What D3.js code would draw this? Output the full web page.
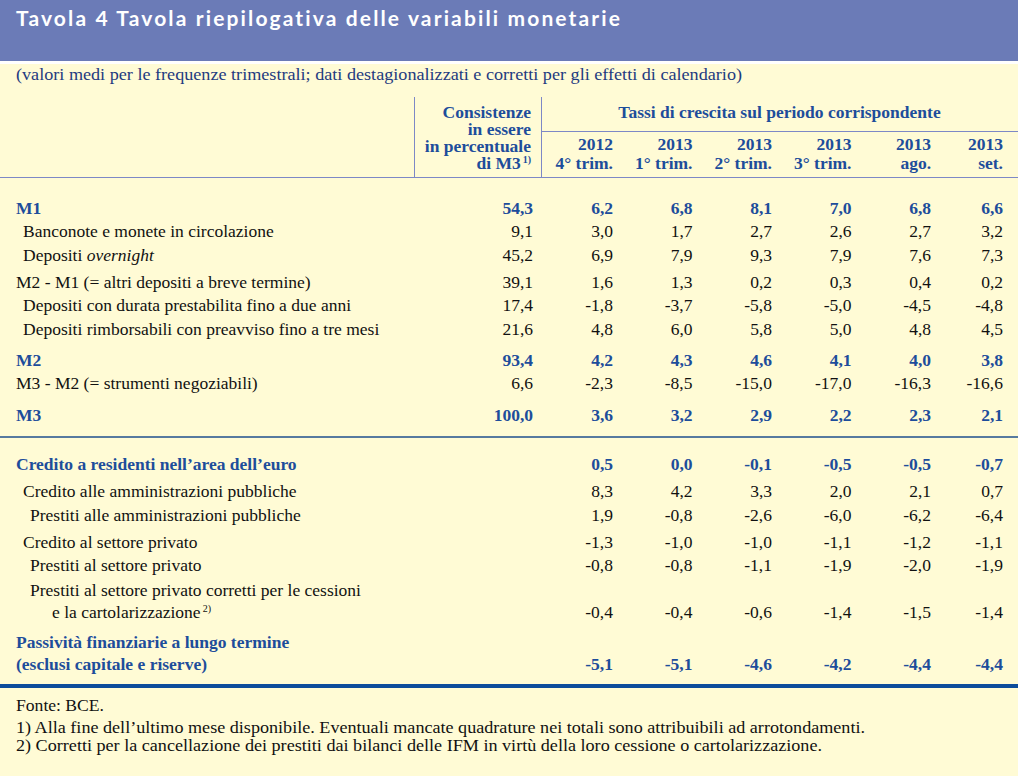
<!DOCTYPE html>
<html><head><meta charset="utf-8">
<script src="https://cdn.jsdelivr.net/npm/d3@7"></script>
<style>
body{margin:0;background:#fff}svg{display:block}
.serif{font-family:"Liberation Serif",monospace}
.title{font-family:Lato,"Open Sans",sans-serif;font-variant-ligatures:none;font-feature-settings:"liga" 0}
</style>
</head><body>
<script>
// ---------------- DATA ----------------
const title = "Tavola 4 Tavola riepilogativa delle variabili monetarie";
const subtitle = "(valori medi per le frequenze trimestrali; dati destagionalizzati e corretti per gli effetti di calendario)";
const stockHeader = ["Consistenze", "in essere", "in percentuale", "di M3"];
const stockHeaderNote = "1)";
const growthHeader = "Tassi di crescita sul periodo corrispondente";
const periodYears  = ["2012", "2013", "2013", "2013", "2013", "2013"];
const periodLabels = ["4° trim.", "1° trim.", "2° trim.", "3° trim.", "ago.", "set."];

const rowLabels = [
  ["M1"],
  ["Banconote e monete in circolazione"],
  ["Depositi |overnight"],
  ["M2 - M1 (= altri depositi a breve termine)"],
  ["Depositi con durata prestabilita fino a due anni"],
  ["Depositi rimborsabili con preavviso fino a tre mesi"],
  ["M2"],
  ["M3 - M2 (= strumenti negoziabili)"],
  ["M3"],
  ["Credito a residenti nell’area dell’euro"],
  ["Credito alle amministrazioni pubbliche"],
  ["Prestiti alle amministrazioni pubbliche"],
  ["Credito al settore privato"],
  ["Prestiti al settore privato"],
  ["Prestiti al settore privato corretti per le cessioni", "e la cartolarizzazione"],
  ["Passività finanziarie a lungo termine", "(esclusi capitale e riserve)"]
];
const rowNotes  = ["", "", "", "", "", "", "", "", "", "", "", "", "", "", "2)", ""];
const rowLevels = [0, 1, 1, 0, 1, 1, 0, 0, 0, 0, 1, 2, 1, 2, 2, 0];
const rowBold   = [true, false, false, false, false, false, true, false, true, true, false, false, false, false, false, true];

const stockShare = [54.3, 9.1, 45.2, 39.1, 17.4, 21.6, 93.4, 6.6, 100.0, null, null, null, null, null, null, null];
const g2012q4 = [6.2, 3.0, 6.9, 1.6, -1.8, 4.8, 4.2, -2.3, 3.6, 0.5, 8.3, 1.9, -1.3, -0.8, -0.4, -5.1];
const g2013q1 = [6.8, 1.7, 7.9, 1.3, -3.7, 6.0, 4.3, -8.5, 3.2, 0.0, 4.2, -0.8, -1.0, -0.8, -0.4, -5.1];
const g2013q2 = [8.1, 2.7, 9.3, 0.2, -5.8, 5.8, 4.6, -15.0, 2.9, -0.1, 3.3, -2.6, -1.0, -1.1, -0.6, -4.6];
const g2013q3 = [7.0, 2.6, 7.9, 0.3, -5.0, 5.0, 4.1, -17.0, 2.2, -0.5, 2.0, -6.0, -1.1, -1.9, -1.4, -4.2];
const g2013ago = [6.8, 2.7, 7.6, 0.4, -4.5, 4.8, 4.0, -16.3, 2.3, -0.5, 2.1, -6.2, -1.2, -2.0, -1.5, -4.4];
const g2013set = [6.6, 3.2, 7.3, 0.2, -4.8, 4.5, 3.8, -16.6, 2.1, -0.7, 0.7, -6.4, -1.1, -1.9, -1.4, -4.4];
const growthSeries = [g2012q4, g2013q1, g2013q2, g2013q3, g2013ago, g2013set];

const footnotes = [
  "Fonte: BCE.",
  "1) Alla fine dell’ultimo mese disponibile. Eventuali mancate quadrature nei totali sono attribuibili ad arrotondamenti.",
  "2) Corretti per la cancellazione dei prestiti dai bilanci delle IFM in virtù della loro cessione o cartolarizzazione."
];

// ---------------- LAYOUT ----------------
const W = 1022, H = 776, CW = 1018;
const BLUE = "#1d4d9b", INK = "#111", CREAM = "#fffbd5", BAR = "#6b7bb7", RULE = "#7d88c6";
const FS = 17.5;

const svg = d3.select("body").append("svg").attr("width", W).attr("height", H);
svg.append("rect").attr("x", 0).attr("y", 0).attr("width", CW).attr("height", 61).attr("fill", BAR);
svg.append("rect").attr("x", 0).attr("y", 64).attr("width", CW).attr("height", H - 64).attr("fill", CREAM);

svg.append("text").attr("class", "title").attr("x", 16).attr("y", 26)
  .attr("font-weight", 700).attr("font-size", 21)
  .attr("fill", "#fff").attr("textLength", 604).attr("lengthAdjust", "spacing")
  .text(title);

svg.append("text").attr("class", "serif").attr("x", 16).attr("y", 80)
  .attr("font-size", FS).attr("fill", "#1e3a80")
  .attr("textLength", 726).attr("lengthAdjust", "spacingAndGlyphs")
  .text(subtitle);

// columns: x positions (right edges)
const colKeys = d3.range(periodLabels.length);
const colWidths = [79.5, 79.5, 79.5, 79.5, 72];
const colRights = colWidths.reduce((a, w) => (a.push(a[a.length - 1] + w), a), [613]);
const xCol = d3.scaleOrdinal().domain(colKeys).range(colRights);
const xStock = 533;

// header rules
const rules = svg.append("g").attr("stroke", RULE).attr("stroke-width", 1);
rules.append("line").attr("x1", 414.5).attr("x2", 414.5).attr("y1", 97).attr("y2", 177);
rules.append("line").attr("x1", 541.5).attr("x2", 541.5).attr("y1", 97).attr("y2", 177);
rules.append("line").attr("x1", 541).attr("x2", CW).attr("y1", 131.5).attr("y2", 131.5);
rules.append("line").attr("x1", 0).attr("x2", CW).attr("y1", 177.5).attr("y2", 177.5);

// header texts
const hdr = svg.append("g").attr("class", "serif").attr("font-weight", 700)
  .attr("font-size", FS).attr("fill", BLUE);
const yHead = d3.scaleLinear().domain([0, 1]).range([118, 135]);
stockHeader.forEach((t, i) => {
  const tx = hdr.append("text").attr("x", 531).attr("y", yHead(i)).attr("text-anchor", "end");
  tx.append("tspan").text(t);
  if (i === stockHeader.length - 1) {
    tx.append("tspan").attr("font-size", 10).attr("dy", -6).text("\u2009" + stockHeaderNote);
  }
});
hdr.append("text").attr("x", (541 + CW) / 2).attr("y", 118).attr("text-anchor", "middle").text(growthHeader);
hdr.selectAll("text.yr").data(periodYears).join("text").attr("class", "yr")
  .attr("x", (d, i) => xCol(i)).attr("y", 150).attr("text-anchor", "end").text(d => d);
hdr.selectAll("text.pl").data(periodLabels).join("text").attr("class", "pl")
  .attr("x", (d, i) => xCol(i)).attr("y", 169).attr("text-anchor", "end").text(d => d);

// row vertical layout (in line units + gaps)
const LINE = 23.3;
const gapBefore = [0, 0, 0, 4, 0, 0, 8.2, 0, 8.7, 25.7, 3.7, 0, 4, 0, 1.7, 6.7];
const lineStep2 = 22;
let cursor = 0;
const rowTop = [], rowLast = [];
rowLabels.forEach((lines, i) => {
  if (i > 0) cursor += LINE + gapBefore[i];
  rowTop.push(cursor);
  cursor += (lines.length - 1) * lineStep2;
  rowLast.push(cursor);
});
const yRow = d3.scaleLinear().domain([0, 1]).range([214, 215]);

const indent = d3.scaleLinear().domain([0, 1]).range([16, 23]);
const fmt = d3.formatLocale({decimal: ",", thousands: ".", grouping: [3], currency: ["", "€"], minus: "-"}).format(".1f");

const body = svg.append("g").attr("class", "serif").attr("font-size", FS);
rowLabels.forEach((lines, i) => {
  const col = rowBold[i] ? BLUE : INK;
  const fw = rowBold[i] ? 700 : 400;
  lines.forEach((ln, j) => {
    const xi = j === 0 ? indent(rowLevels[i]) : (rowBold[i] ? indent(rowLevels[i]) : 52);
    const t = body.append("text").attr("x", xi).attr("y", yRow(rowTop[i] + j * lineStep2))
      .attr("fill", col).attr("font-weight", fw);
    const parts = ln.split("|");
    t.append("tspan").text(parts[0]);
    if (parts[1]) t.append("tspan").attr("font-style", "italic").text(parts[1]);
    if (j === lines.length - 1 && rowNotes[i]) {
      t.append("tspan").attr("font-size", 10).attr("dy", -6).text("\u2009" + rowNotes[i]);
    }
  });
  const yv = yRow(rowLast[i]);
  if (stockShare[i] != null) {
    body.append("text").attr("x", xStock).attr("y", yv).attr("text-anchor", "end")
      .attr("fill", col).attr("font-weight", fw).text(fmt(stockShare[i]));
  }
  growthSeries.forEach((s, k) => {
    body.append("text").attr("x", xCol(k)).attr("y", yv).attr("text-anchor", "end")
      .attr("fill", col).attr("font-weight", fw).text(fmt(s[i]));
  });
});

// separators
svg.append("line").attr("x1", 0).attr("x2", CW).attr("y1", 437).attr("y2", 437)
  .attr("stroke", "#1f4f8c").attr("stroke-width", 1.5);
svg.append("line").attr("x1", 0).attr("x2", CW).attr("y1", 686).attr("y2", 686)
  .attr("stroke", "#0d4c9b").attr("stroke-width", 4);

// footnotes
const footW = [88, 849, 806];
svg.append("g").attr("class", "serif").attr("font-size", 16).attr("fill", INK)
  .selectAll("text").data(footnotes).join("text")
  .attr("x", 16).attr("y", (d, i) => i === 0 ? 711 : 733 + (i - 1) * 17.5)
  .attr("textLength", (d, i) => footW[i]).attr("lengthAdjust", "spacingAndGlyphs")
  .text(d => d);
</script>
</body></html>
